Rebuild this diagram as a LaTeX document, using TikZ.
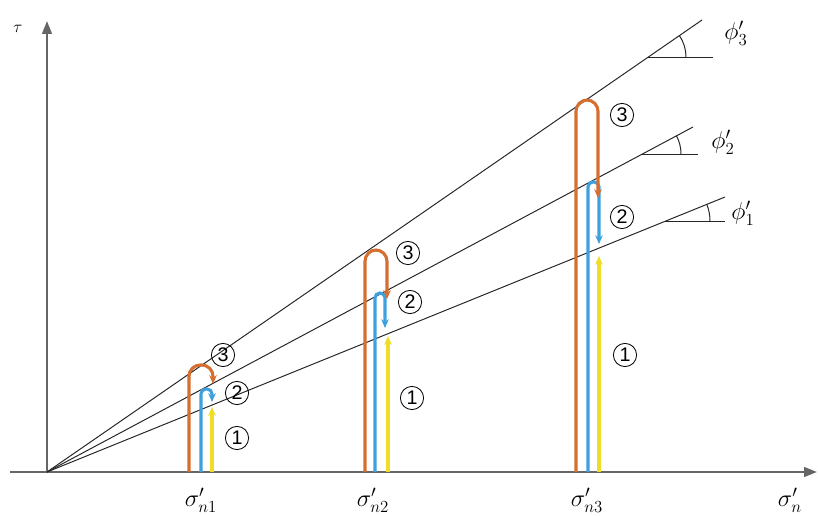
\documentclass[tikz,border=0pt]{standalone}
\usepackage{fontspec}
\setsansfont{Liberation Sans}
\usetikzlibrary{arrows.meta}
\definecolor{pathorange}{RGB}{214,110,48}
\definecolor{pathblue}{RGB}{62,160,222}
\definecolor{pathyellow}{RGB}{238,222,40}

\begin{document}
\begin{tikzpicture}[
  x=0.025cm,y=0.025cm,
  axis/.style={draw=black!60,line width=1.4pt},
  axistip/.style={-{Triangle[length=3.2mm,width=2.4mm]}},
  envelope/.style={draw=black!85,line width=0.7pt},
  loading/.style={line width=2.2pt,rounded corners=8pt},
  shortturn/.style={rounded corners=3.5pt},
  downtip/.style={-{Stealth[length=2.2mm,width=1.9mm]}},
  stagenum/.style={draw,circle,inner sep=0pt,minimum size=5.8mm,line width=0.6pt,font=\sffamily\fontsize{14}{14}\selectfont},
  every node/.append style={font=\fontsize{18}{18}\selectfont}
]
  \useasboundingbox (0,0) rectangle (818,515);

  % axes
  \coordinate (o) at (47,43);
  \coordinate (xend) at (817,43);
  \coordinate (yend) at (47,494);
  \draw[axis,axistip] (10,43) -- (xend);
  \draw[axis,axistip] (o) -- (yend);
  \node[font=\large] (tau) at (18,486) {$\tau$};
  \node[anchor=base] (sn) at (790,9) {$\sigma'_n$};

  % failure envelopes
  \coordinate (e3) at (702,495);
  \coordinate (e2) at (693,388);
  \coordinate (e1) at (725,318);
  \draw[envelope] (o) -- (e3);
  \draw[envelope] (o) -- (e2);
  \draw[envelope] (o) -- (e1);

  % friction angles
  \coordinate (a3) at (648,458);
  \coordinate (a2) at (642,361);
  \coordinate (a1) at (665,294);
  \draw[envelope] (a3) -- ++(65,0);
  \draw[envelope] (a3) ++(38,0) arc[start angle=0,end angle=34.6,radius=38];
  \draw[envelope] (a2) -- ++(56,0);
  \draw[envelope] (a2) ++(39,0) arc[start angle=0,end angle=28.1,radius=39];
  \draw[envelope] (a1) -- ++(60,0);
  \draw[envelope] (a1) ++(45,0) arc[start angle=0,end angle=22.1,radius=45];
  \node (phi3) at (736,482) {$\phi'_3$};
  \node (phi2) at (723,373) {$\phi'_2$};
  \node (phi1) at (743,302) {$\phi'_1$};

  % stress path 1
  \draw[loading,pathyellow,downtip] (212,43) -- (212,108);
  \draw[loading,shortturn,pathblue,downtip] (201,43) -- (201,126) -- (212,126) -- (212,113);
  \draw[loading,pathorange,downtip] (189,43) -- (189,150) -- (213,150) -- (213,131);
  \node[stagenum] (p1s3) at (223,160) {3};
  \node[stagenum] (p1s2) at (237,122) {2};
  \node[stagenum] (p1s1) at (237,77) {1};
  \node[anchor=base] (sn1) at (201,9) {$\sigma'_{n1}$};

  % stress path 2
  \draw[loading,pathyellow,downtip] (388,43) -- (388,179);
  \draw[loading,shortturn,pathblue,downtip] (375,43) -- (375,222) -- (385,222) -- (385,187);
  \draw[loading,pathorange,downtip] (365,43) -- (365,265) -- (387,265) -- (387,216);
  \node[stagenum] (p2s3) at (408,262) {3};
  \node[stagenum] (p2s2) at (410,213) {2};
  \node[stagenum] (p2s1) at (412,117) {1};
  \node[anchor=base] (sn2) at (373,9) {$\sigma'_{n2}$};

  % stress path 3
  \draw[loading,pathyellow,downtip] (599,43) -- (599,259);
  \draw[loading,shortturn,pathblue,downtip] (588,43) -- (588,333) -- (599,333) -- (599,271);
  \draw[loading,pathorange,downtip] (576,43) -- (576,415) -- (598,415) -- (598,317);
  \node[stagenum] (p3s3) at (622,400) {3};
  \node[stagenum] (p3s2) at (622,298) {2};
  \node[stagenum] (p3s1) at (625,160) {1};
  \node[anchor=base] (sn3) at (587,9) {$\sigma'_{n3}$};
\end{tikzpicture}
\end{document}
